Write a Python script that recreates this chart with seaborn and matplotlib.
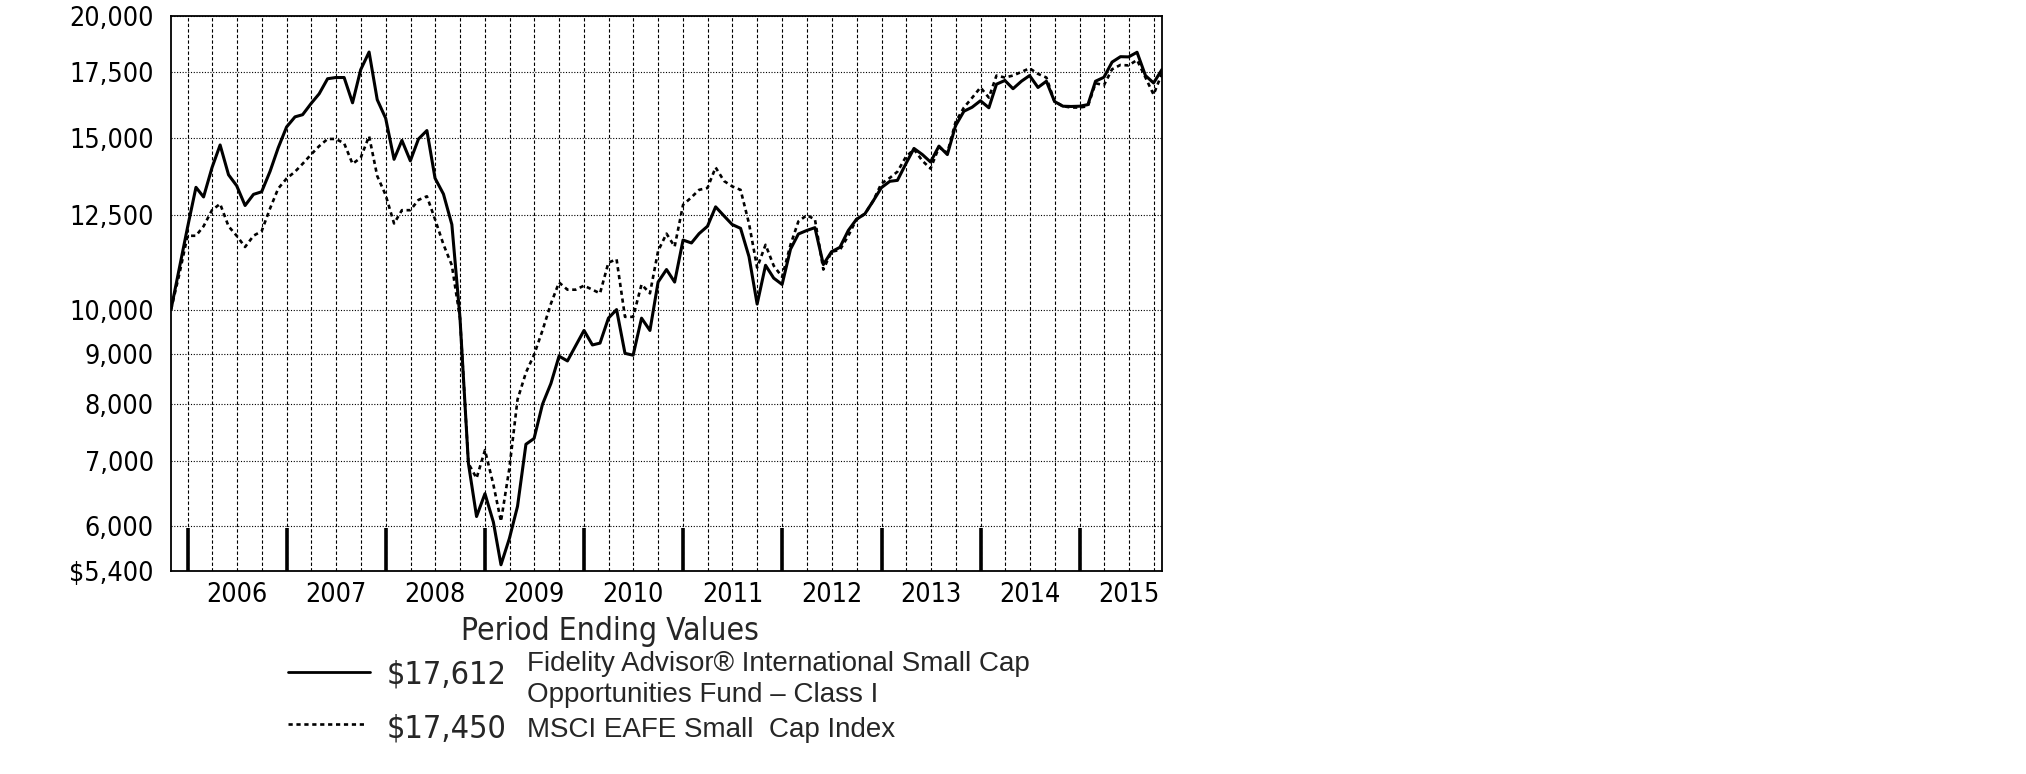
import pandas as pd
import matplotlib
matplotlib.use("Agg")
import matplotlib.pyplot as plt
import matplotlib.dates as mdates
import seaborn as sns
from matplotlib.ticker import FixedLocator, FixedFormatter, NullLocator
from matplotlib.lines import Line2D

# Growth of $10,000, month ends Oct 2005 - Oct 2015
fund_values = [
    10000, 11000, 12140, 13340, 13040, 13970, 14740, 13740, 13390, 12780, 13120, 13200,
    13850, 14640, 15380, 15750, 15830, 16250, 16630, 17230, 17280, 17280, 16280, 17600,
    18350, 16400, 15700, 14250, 14900, 14200, 14950, 15250, 13630, 13130, 12220, 9800,
    6960, 6140, 6480, 6060, 5480, 5830, 6290, 7280, 7380, 8000, 8400, 8960,
    8860, 9180, 9520, 9200, 9240, 9800, 10000, 9020, 8980, 9800, 9520, 10670,
    10990, 10670, 11780, 11700, 11960, 12170, 12740, 12470, 12220, 12110, 11330, 10130,
    11100, 10770, 10610, 11530, 11950, 12050, 12130, 11120, 11460, 11580, 12050, 12370,
    12530, 12910, 13330, 13530, 13560, 14100, 14620, 14410, 14160, 14700, 14410, 15420,
    15960, 16110, 16360, 16090, 17010, 17160, 16830, 17130, 17360, 16880, 17130, 16330,
    16150, 16140, 16150, 16210, 17130, 17290, 17920, 18150, 18140, 18340, 17360, 17060,
    17612,
]
index_values = [
    10000, 10850, 11900, 11900, 12170, 12640, 12830, 12170, 11900, 11590, 11900, 12030,
    12690, 13300, 13620, 13840, 14100, 14410, 14700, 14950, 14950, 14800, 14100, 14300,
    15050, 13700, 13100, 12250, 12640, 12640, 12950, 13060, 12370, 11660, 11100, 9800,
    6960, 6720, 7180, 6620, 6070, 6880, 8090, 8620, 8990, 9520, 10140, 10660,
    10480, 10480, 10580, 10480, 10390, 11170, 11260, 9830, 9830, 10610, 10390, 11480,
    11960, 11600, 12800, 13030, 13260, 13320, 13980, 13540, 13370, 13260, 12250, 11040,
    11650, 11090, 10800, 11650, 12310, 12490, 12370, 10990, 11460, 11510, 11900, 12370,
    12530, 12910, 13460, 13640, 13840, 14330, 14590, 14200, 13940, 14660, 14470, 15550,
    16100, 16470, 16880, 16480, 17360, 17280, 17360, 17510, 17660, 17430, 17280, 16330,
    16150, 16100, 16100, 16150, 17050, 16970, 17620, 17800, 17780, 18010, 17280, 16600,
    17450,
]
fund_name = ["Fidelity Advisor\u00ae International Small Cap",
             "Opportunities Fund \u2013 Class I"]
index_name = ["MSCI EAFE Small  Cap Index"]
y_ticks = [5400, 6000, 7000, 8000, 9000, 10000, 12500, 15000, 17500, 20000]
y_labels = ["$5,400", "6,000", "7,000", "8,000", "9,000", "10,000",
            "12,500", "15,000", "17,500", "20,000"]
years = list(range(2006, 2016))

dates = pd.date_range("2005-10-31", periods=len(fund_values), freq=pd.offsets.MonthEnd())
df = pd.DataFrame({"Date": dates, "Fund": fund_values, "Index": index_values})

sns.set_style("white")
plt.rcParams["font.family"] = ["DejaVu Sans"]
narrow = ["Liberation Sans Narrow", "Liberation Sans", "DejaVu Sans"]
dotted = (0, (1.6, 1.4))

W, H = 2026, 774
fig = plt.figure(figsize=(W / 100, H / 100), dpi=100)
ax = fig.add_axes([171 / W, 1 - 571 / H, (1162 - 171) / W, (571 - 15.5) / H])

sns.lineplot(data=df, x="Date", y="Fund", ax=ax, color="black", lw=2.2)
sns.lineplot(data=df, x="Date", y="Index", ax=ax, color="black", lw=1.9,
             linestyle=dotted)

# y axis (log)
ax.set_yscale("log")
ax.set_ylim(y_ticks[0], y_ticks[-1])
ax.yaxis.set_major_locator(FixedLocator(y_ticks))
ax.yaxis.set_major_formatter(FixedFormatter(y_labels))
ax.yaxis.set_minor_locator(NullLocator())
ax.tick_params(axis="y", which="major", direction="out", length=9.5, width=2.2,
               pad=3, labelsize=19.3, colors="black")
ax.grid(axis="y", which="major", color="black", linestyle=(0, (1, 1.5)), lw=0.8)

# x axis: quarterly grid, year labels mid-year, year marks at boundaries
ax.set_xlim(dates[0], dates[-1])
ax.xaxis.remove_overlapping_locs = False
ax.xaxis.set_minor_locator(mdates.MonthLocator(bymonth=[1, 4, 7, 10]))
ax.xaxis.set_major_locator(mdates.MonthLocator(bymonth=[7], bymonthday=1))
ax.xaxis.set_major_formatter(mdates.DateFormatter("%Y"))
ax.tick_params(axis="x", which="both", length=0, pad=8, labelsize=19.3, colors="black")
ax.grid(axis="x", which="minor", color="black", linestyle=(0, (3, 2)), lw=0.8)
ax.grid(axis="x", which="major", visible=False)
year_marks = mdates.date2num(pd.to_datetime([f"{y}-01-01" for y in years]))
ax.vlines(year_marks, 0, 0.077, transform=ax.get_xaxis_transform(),
          color="black", lw=2.6, zorder=5)

for lab in ax.get_xticklabels() + ax.get_yticklabels():
    lab.set_fontstretch("condensed")

ax.set_xlabel("")
ax.set_ylabel("")
for s in ax.spines.values():
    s.set_visible(True)
    s.set_color("black")
    s.set_linewidth(1.3)

# legend block
fig.text(610 / W, 1 - 640 / H, "Period Ending Values", ha="center", va="baseline",
         fontsize=22.8, fontstretch="condensed")

fig.add_artist(Line2D([288 / W, 370 / W], [1 - 672 / H] * 2, color="black", lw=2.0))
fig.text(387 / W, 1 - 684 / H, f"${fund_values[-1]:,}", ha="left", va="baseline",
         fontsize=23.2, fontstretch="condensed")
for k, line in enumerate(fund_name):
    fig.text(527 / W, 1 - (671 + 31 * k) / H, line, ha="left", va="baseline",
             fontsize=20, family=narrow)

fig.add_artist(Line2D([288 / W, 366 / W], [1 - 724 / H] * 2, color="black", lw=1.9,
                      linestyle=dotted))
fig.text(387 / W, 1 - 737 / H, f"${index_values[-1]:,}", ha="left", va="baseline",
         fontsize=23.2, fontstretch="condensed")
fig.text(527 / W, 1 - 737 / H, index_name[0], ha="left", va="baseline",
         fontsize=20, family=narrow)

fig.savefig("out.png", dpi=100, facecolor="white")
